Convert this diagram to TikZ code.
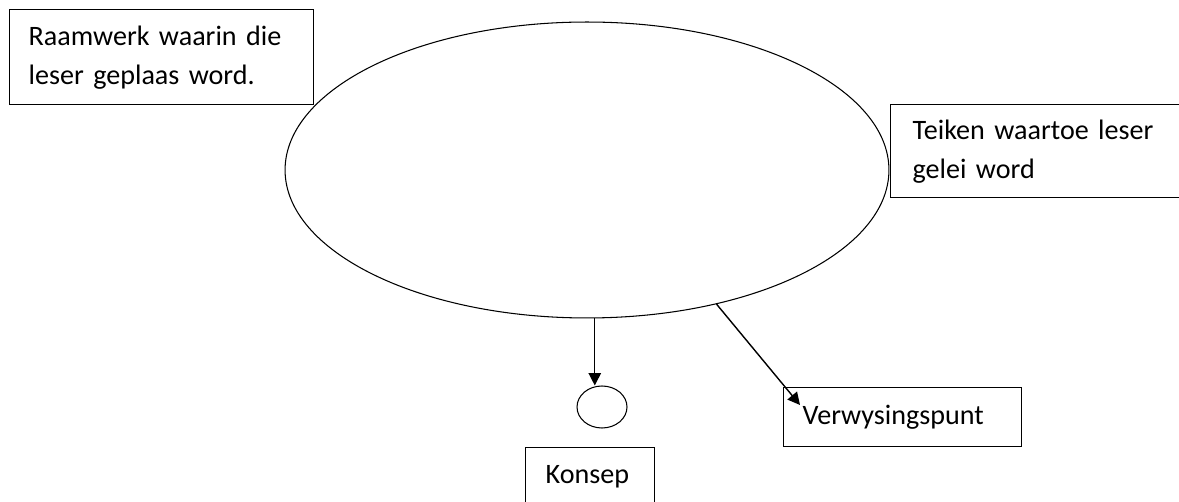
\documentclass[tikz,border=0pt]{standalone}
\usepackage{fontspec}
\setmainfont{Carlito}
\usepackage{xcolor}
\usepackage{tikz}
\usetikzlibrary{
	shapes.geometric, arrows.meta, positioning
}

\begin{document}
\begin{tikzpicture}[
		x = 0.02cm, y = -0.02cm,
		label box/.style={
			rectangle, draw, line width = 0.8pt, anchor = north west,
			align = left, inner ysep = 0pt,
			font = \fontsize{16}{22.2}\selectfont
		},
		bubble/.style={
			ellipse, draw, line width = 0.6pt, inner sep = 0pt
		},
		>={Triangle[length = 7pt, width = 7pt]},
	]
		\useasboundingbox (0, 0) rectangle (1179, 502);
		\clip (0, 0) rectangle (1179, 502);
		\node[bubble, minimum width = 12.08cm, minimum height = 5.92cm] (frame) at (587, 170) {};
		\node[bubble, minimum width = 1cm, minimum height = 0.84cm] (dot) at (602, 407) {};
		\node[
			label box, inner xsep = 0.38cm, text width = 5.32cm,
			minimum height = 1.9cm
		] (raamwerk) at (9, 9) {
			Raamwerk waarin die\\ leser geplaas word.
		};
		\node[
			label box, inner xsep = 0.44cm, text width = 5.32cm,
			minimum height = 1.86cm
		] (teiken) at (890, 104) {
			Teiken waartoe leser\\ gelei word
		};
		\node[
			label box, inner xsep = 0.38cm, text width = 4cm,
			minimum height = 1.18cm
		] (verwysing) at (783, 387) {Verwysingspunt};
		% box runs off the bottom edge, so the text gets a deep box
		\node[
			label box, inner xsep = 0.4cm, text width = 1.78cm,
			text height = 0.72cm, text depth = 0.8cm
		] (konsep) at (525, 447) {Konsep};
		\draw[->, line width = 0.8pt] (frame.-87.3) -- (frame.-87.3 |- dot.north);
		\draw[->, line width = 0.8pt] (frame.-46) -- ([shift = {(17, 18)}] verwysing.north west);
	\end{tikzpicture}
\end{document}
